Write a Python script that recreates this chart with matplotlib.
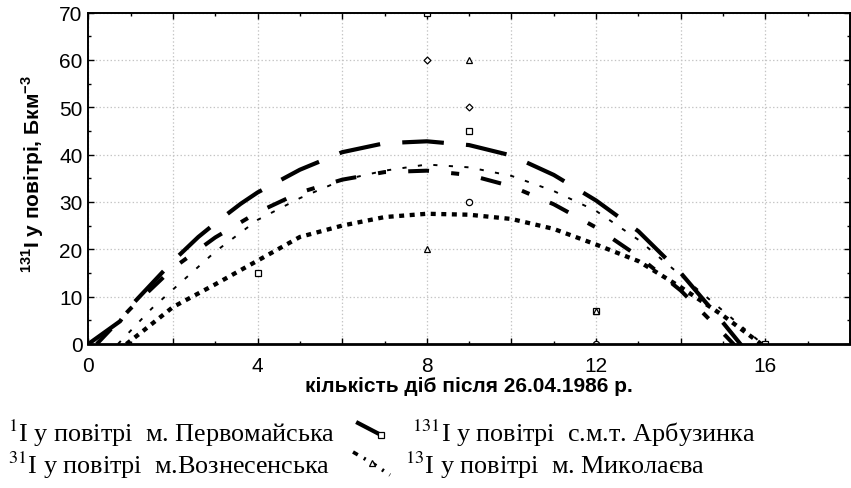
import numpy as np
import matplotlib
matplotlib.use("Agg")
import matplotlib.pyplot as plt
from matplotlib.lines import Line2D
from matplotlib.ticker import MultipleLocator, FuncFormatter

plt.rcParams['font.family'] = ['Liberation Sans', 'DejaVu Sans']
plt.rcParams['mathtext.fontset'] = 'custom'
plt.rcParams['mathtext.rm'] = 'Liberation Sans'
plt.rcParams['mathtext.bf'] = 'Liberation Sans:bold'
plt.rcParams['lines.scale_dashes'] = False

# ---- дані ----
# згладжені криві (апроксимація)
x_arb = [0, 0.75, 1, 2, 2.6, 3, 3.6, 4, 5, 6, 7, 8, 9, 10, 11, 12, 13, 14, 15, 15.5]
y_arb = [0, 4.8, 8, 17.5, 22.6, 25.5, 29.6, 32, 36.8, 40.5, 42.4, 42.8, 42, 39.8, 35.7, 30.3, 23.8, 15, 4.5, -1]

x_perv = [0.2, 1, 2, 3, 4, 5, 6, 7, 8, 9, 10, 11, 12, 13, 14, 15, 15.3]
y_perv = [0, 7.5, 16, 22.5, 27.8, 32, 34.7, 36.3, 36.6, 35.7, 33.3, 29.5, 24.6, 18.5, 11.3, 2.3, -0.5]

x_myk = [0.7, 1, 1.5, 2, 3, 4, 5, 6, 7, 8, 9, 10, 11, 12, 13, 14, 15, 15.6, 16]
y_myk = [0, 2.8, 7.5, 11.5, 19.5, 26.2, 30.8, 34.6, 36.6, 37.9, 37.3, 35.5, 32.3, 28.1, 22, 14.5, 7, 2.5, -0.5]

x_vozn = [0.9, 1.3, 2, 3, 4, 5, 6, 7, 8, 9, 10, 11, 12, 13, 14, 15, 15.9]
y_vozn = [0, 2.8, 7.8, 12.6, 17.6, 22.6, 25, 26.8, 27.5, 27.3, 26.4, 24.3, 21, 17.5, 12, 6, 0]

# виміряні точки
pts_arb_x = [4, 8, 9, 12, 16]
pts_arb_y = [15, 70, 45, 7, 0]
pts_myk_x = [8, 9, 12]
pts_myk_y = [20, 60, 7]
pts_perv_x = [8, 9]
pts_perv_y = [60, 50]
pts_vozn_x = [9, 12]
pts_vozn_y = [30, 0]

W, H = 851, 489
fig = plt.figure(figsize=(W / 100, H / 100), dpi=100)
ax = fig.add_axes([88.3 / W, 1 - 345 / H, (850 - 88.3) / W, (345 - 13.5) / H])

# криві
ax.plot(x_arb, y_arb, color='black', lw=3, dashes=(30, 16), solid_capstyle='butt', dash_capstyle='butt')
ax.plot(x_perv, y_perv, color='black', lw=2.9, dashes=(15, 16, 5.8, 16), dash_capstyle='butt')
ax.plot(x_myk, y_myk, color='black', lw=1.4, dashes=(3, 8.2), dash_capstyle='butt')
ax.plot(x_vozn, y_vozn, color='black', lw=3.1, dashes=(3.6, 4.0), dash_capstyle='butt')

# точки
mk = dict(linestyle='none', markerfacecolor='white', markeredgecolor='black', markeredgewidth=0.9)
ax.plot(pts_arb_x, pts_arb_y, marker='s', markersize=4.5, **mk)
ax.plot(pts_myk_x, pts_myk_y, marker='^', markersize=4.5, **mk)
ax.plot(pts_perv_x, pts_perv_y, marker='D', markersize=3.5, **mk)
ax.plot(pts_vozn_x, pts_vozn_y, marker='o', markersize=4.5, **mk)

ax.set_xlim(0, 18)
ax.set_ylim(0, 70)
ax.xaxis.set_major_locator(MultipleLocator(2))
ax.xaxis.set_minor_locator(MultipleLocator(1))
ax.xaxis.set_major_formatter(FuncFormatter(lambda v, p: '%d' % v if int(round(v)) % 4 == 0 else ''))
ax.yaxis.set_major_locator(MultipleLocator(10))
ax.yaxis.set_minor_locator(MultipleLocator(5))

ax.grid(True, which='major', color='#c4c4c4', linestyle=':', linewidth=0.9)
ax.tick_params(which='both', direction='in', top=True, right=True, color='black')
ax.tick_params(which='major', length=4, width=1)
ax.tick_params(which='minor', length=2.5, width=1)
ax.tick_params(axis='x', labelsize=15, pad=9)
ax.tick_params(axis='y', labelsize=15, pad=4)
for s in ax.spines.values():
    s.set_linewidth(1.4)
ax.spines['bottom'].set_linewidth(2)

ax.set_xlabel('кількість діб після 26.04.1986 р.', fontsize=15, fontweight='bold')
ax.xaxis.set_label_coords(0.5, (345 - 392) / 331.5)
ax.xaxis.label.set_verticalalignment('baseline')
ax.set_ylabel(r'$^{\mathbf{131}}$I у повітрі, Бкм$^{\mathbf{-3}}$', fontsize=15, fontweight='bold')
ax.yaxis.set_label_coords((33 - 88.3) / 762, 0.515)
ax.yaxis.label.set_verticalalignment('center')

# легенда (ліва частина обрізана, як на оригіналі)
def fx(px):
    return px / W

def fy(py):
    return 1 - py / H

leg = dict(fontsize=18.8, family=['Liberation Serif', 'DejaVu Serif'], math_fontfamily='stix', va='baseline')
fig.text(fx(8), fy(442), r'$^{1}$I у повітрі  м. Первомайська', **leg)
fig.text(fx(8), fy(474), r'$^{31}$I у повітрі  м.Вознесенська', **leg)
fig.text(fx(412), fy(442), r'$^{131}$I у повітрі  с.м.т. Арбузинка', **leg)
fig.text(fx(405), fy(474), r'$^{13}$I у повітрі  м. Миколаєва', **leg)

fig.add_artist(Line2D([fx(358), fx(381)], [fy(424), fy(436)], transform=fig.transFigure,
                      color='black', lw=3, marker='s', markevery=[1], markersize=4.5,
                      markerfacecolor='white', markeredgecolor='black', markeredgewidth=0.9))
fig.add_artist(Line2D([fx(353), fx(372), fx(390)], [fy(453), fy(464), fy(476)], transform=fig.transFigure,
                      color='black', lw=2.6, dashes=(4, 5, 1.5, 5), marker='^', markevery=[1], markersize=4.5,
                      markerfacecolor='white', markeredgecolor='black', markeredgewidth=0.9))

fig.savefig('out.png', dpi=100)
